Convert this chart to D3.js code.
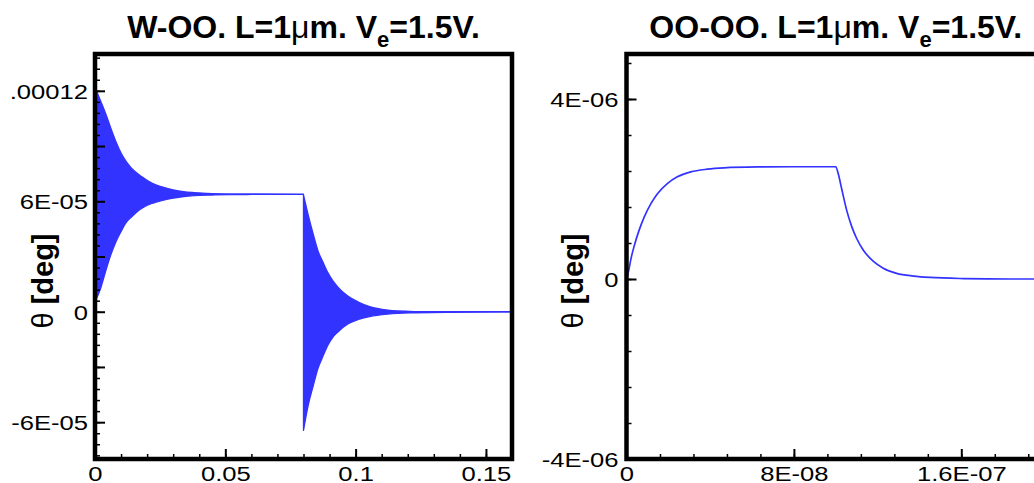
<!DOCTYPE html>
<html>
<head>
<meta charset="utf-8">
<script src="https://cdn.jsdelivr.net/npm/d3@7"></script>
<style>
  body { margin: 0; background: #fff; }
  svg { display: block; }
</style>
</head>
<body>
<svg id="chart" width="1034" height="483"></svg>
<script>
// ---- W-OO: envelope (upper / lower extremes) of the fast oscillation ----
// before the switch at t = 0.08
const woTime1  = [0, 0.002, 0.004, 0.006, 0.008, 0.010, 0.012, 0.014, 0.018, 0.022,
                  0.026, 0.030, 0.034, 0.038, 0.045, 0.052, 0.060, 0.080];
const woUpper1 = [12.2e-5, 11.5e-5, 10.8e-5, 10.0e-5, 9.25e-5, 8.62e-5, 8.15e-5, 7.8e-5, 7.33e-5, 6.97e-5,
                  6.77e-5, 6.62e-5, 6.52e-5, 6.47e-5, 6.42e-5, 6.40e-5, 6.40e-5, 6.39e-5];
const woLower1 = [0.53e-5, 1.2e-5, 2.16e-5, 3.06e-5, 3.79e-5, 4.36e-5, 4.85e-5, 5.15e-5, 5.63e-5, 5.89e-5,
                  6.05e-5, 6.17e-5, 6.26e-5, 6.31e-5, 6.34e-5, 6.36e-5, 6.37e-5, 6.38e-5];
// after the switch
const woTime2  = [0.080, 0.0818, 0.0837, 0.0856, 0.0875, 0.0894, 0.0913, 0.0932, 0.097, 0.101,
                  0.1054, 0.1123, 0.1161, 0.1226, 0.1352, 0.16];
const woUpper2 = [6.35e-5, 5.26e-5, 4.23e-5, 3.29e-5, 2.68e-5, 2.11e-5, 1.67e-5, 1.34e-5, 0.85e-5, 0.53e-5,
                  0.28e-5, 0.09e-5, 0.04e-5, 0.01e-5, 0, 0];
const woLower2 = [-6.44e-5, -5.08e-5, -4.04e-5, -3.06e-5, -2.41e-5, -1.81e-5, -1.38e-5, -1.10e-5, -0.67e-5, -0.42e-5,
                  -0.26e-5, -0.13e-5, -0.09e-5, -0.06e-5, -0.03e-5, -0.02e-5];

// ---- OO-OO: tilt angle response ----
const ooTime  = [0, 1.2e-9, 2.0e-9, 3.6e-9, 6.0e-9, 8.4e-9, 1.16e-8, 1.47e-8, 1.95e-8, 2.43e-8,
                 3.07e-8, 3.86e-8, 4.66e-8, 6.25e-8, 8.0e-8, 1.0e-7, 1.012e-7, 1.028e-7, 1.052e-7, 1.076e-7,
                 1.100e-7, 1.132e-7, 1.180e-7, 1.227e-7, 1.291e-7, 1.371e-7, 1.450e-7, 1.610e-7, 1.833e-7, 2.0e-7];
const ooTheta = [0, 0.22e-6, 0.42e-6, 0.72e-6, 1.08e-6, 1.37e-6, 1.67e-6, 1.89e-6, 2.12e-6, 2.27e-6,
                 2.38e-6, 2.44e-6, 2.47e-6, 2.49e-6, 2.495e-6, 2.495e-6, 2.34e-6, 2.01e-6, 1.53e-6, 1.17e-6,
                 0.90e-6, 0.64e-6, 0.39e-6, 0.24e-6, 0.125e-6, 0.065e-6, 0.034e-6, 0.01e-6, 0, 0];

// ---- axis ticks and labels ----
const woXTicks  = [0, 0.05, 0.1, 0.15];
const woXLabels = ["0", "0.05", "0.1", "0.15"];
const woYMajor  = [-6e-5, -3e-5, 0, 3e-5, 6e-5, 9e-5, 1.2e-4];
const woYTicks  = [-6e-5, 0, 6e-5, 1.2e-4];
const woYLabels = ["-6E-05", "0", "6E-05", ".00012"];

const ooXTicks  = [0, 8e-8, 1.6e-7];
const ooXLabels = ["0", "8E-08", "1.6E-07"];
const ooYTicks  = [-4e-6, 0, 4e-6];
const ooYLabels = ["-4E-06", "0", "4E-06"];

const BLUE = "#3333ff";
const FONT = "'Liberation Sans', Arial, Helvetica, sans-serif";
const svg = d3.select("#chart");

function labelFor(ticks, labels) {
  return v => {
    const i = ticks.findIndex(t => Math.abs(t - v) < 1e-12);
    return i >= 0 ? labels[i] : "";
  };
}

function drawPanel(p) {
  const x = d3.scaleLinear().domain(p.xDomain).range([p.left, p.right]);
  const y = d3.scaleLinear().domain(p.yDomain).range([p.bottom, p.top]);
  const g = svg.append("g");

  p.drawData(g, x, y);

  // minor ticks
  g.append("g").attr("transform", `translate(${p.left},0)`)
    .call(d3.axisLeft(y).tickValues(p.yMinor).tickSize(-5).tickFormat(""))
    .call(s => s.select(".domain").remove())
    .call(s => s.selectAll("line").attr("stroke-width", 1.5));
  g.append("g").attr("transform", `translate(0,${p.bottom})`)
    .call(d3.axisBottom(x).tickValues(p.xMinor).tickSize(-5).tickFormat(""))
    .call(s => s.select(".domain").remove())
    .call(s => s.selectAll("line").attr("stroke-width", 1.5));

  // major ticks with labels
  const ya = g.append("g").attr("transform", `translate(${p.left},0)`)
    .call(d3.axisLeft(y).tickValues(p.yMajor).tickSize(-10).tickPadding(0)
      .tickFormat(labelFor(p.yTicks, p.yLabels)));
  ya.select(".domain").remove();
  ya.selectAll("line").attr("stroke-width", 2);
  ya.selectAll("text")
    .attr("x", 0).attr("dy", "0.35em")
    .attr("transform", `translate(${-p.yLabelGap},0) scale(1.22,1)`)
    .style("font-family", FONT).style("font-size", "21px").attr("fill", "#000");

  const xa = g.append("g").attr("transform", `translate(0,${p.bottom})`)
    .call(d3.axisBottom(x).tickValues(p.xTicks).tickSize(-10).tickPadding(0)
      .tickFormat(labelFor(p.xTicks, p.xLabels)));
  xa.select(".domain").remove();
  xa.selectAll("line").attr("stroke-width", 2);
  xa.selectAll("text")
    .attr("y", 0).attr("dy", 0)
    .attr("transform", "translate(0,22) scale(1.22,1)")
    .style("font-family", FONT).style("font-size", "21px").attr("fill", "#000");

  // frame
  g.append("rect")
    .attr("x", p.left).attr("y", p.top)
    .attr("width", p.right - p.left).attr("height", p.bottom - p.top)
    .attr("fill", "none").attr("stroke", "#000").attr("stroke-width", 4.5);

  // title
  const t = g.append("text")
    .attr("x", (p.left + p.right) / 2).attr("y", 38)
    .attr("text-anchor", "middle")
    .style("font-family", FONT).style("font-size", "32px").style("font-weight", "bold");
  t.append("tspan").text(p.titleHead + " L=1");
  t.append("tspan").style("font-weight", "normal").text("\u03bc");
  t.append("tspan").text("m. V");
  t.append("tspan").attr("dy", 9).style("font-size", "22px").text("e");
  t.append("tspan").attr("dy", -9).text("=1.5V.");

  // y axis title
  const yl = g.append("text")
    .attr("transform", `translate(${p.yTitleX},281) rotate(-90)`)
    .attr("text-anchor", "middle").attr("dy", "0.35em")
    .style("font-family", FONT).style("font-size", "29px");
  yl.append("tspan").text("\u03b8 ");
  yl.append("tspan").style("font-weight", "bold").text("[deg]");
}

// W-OO panel
drawPanel({
  left: 95, right: 512, top: 54, bottom: 459,
  xDomain: [0, 0.16], yDomain: [-8e-5, 1.4e-4],
  xTicks: woXTicks, xLabels: woXLabels, xMinor: d3.range(0, 0.161, 0.01),
  yMajor: woYMajor, yTicks: woYTicks, yLabels: woYLabels,
  yMinor: d3.range(-78, 139, 6).map(v => v * 1e-6),
  yLabelGap: 7, yTitleX: 43, titleHead: "W-OO.",
  drawData(g, x, y) {
    const area = d3.area().curve(d3.curveMonotoneX)
      .x(d => x(d.t)).y0(d => y(d.lo)).y1(d => y(d.hi));
    const seg1 = woTime1.map((t, i) => ({ t, hi: woUpper1[i], lo: woLower1[i] }));
    const seg2 = woTime2.map((t, i) => ({ t, hi: woUpper2[i], lo: woLower2[i] }));
    [seg1, seg2].forEach(seg => {
      g.append("path").datum(seg).attr("d", area)
        .attr("fill", BLUE).attr("stroke", BLUE).attr("stroke-width", 1.3)
        .attr("stroke-linejoin", "round");
    });
  }
});

// OO-OO panel
drawPanel({
  left: 626.5, right: 1045, top: 54, bottom: 459,
  xDomain: [0, 2e-7], yDomain: [-4e-6, 5e-6],
  xTicks: ooXTicks, xLabels: ooXLabels, xMinor: d3.range(0, 21).map(i => i * 1.6e-8).filter(v => v <= 2e-7),
  yMajor: ooYTicks, yTicks: ooYTicks, yLabels: ooYLabels,
  yMinor: d3.range(-5, 7).map(i => i * 0.8e-6),
  yLabelGap: 8, yTitleX: 573, titleHead: "OO-OO.",
  drawData(g, x, y) {
    const line = d3.line().curve(d3.curveMonotoneX)
      .x(t => x(t)).y((t, i) => y(ooTheta[i]));
    g.append("path").datum(ooTime).attr("d", line)
      .attr("fill", "none").attr("stroke", BLUE).attr("stroke-width", 1.7);
  }
});
</script>
</body>
</html>
